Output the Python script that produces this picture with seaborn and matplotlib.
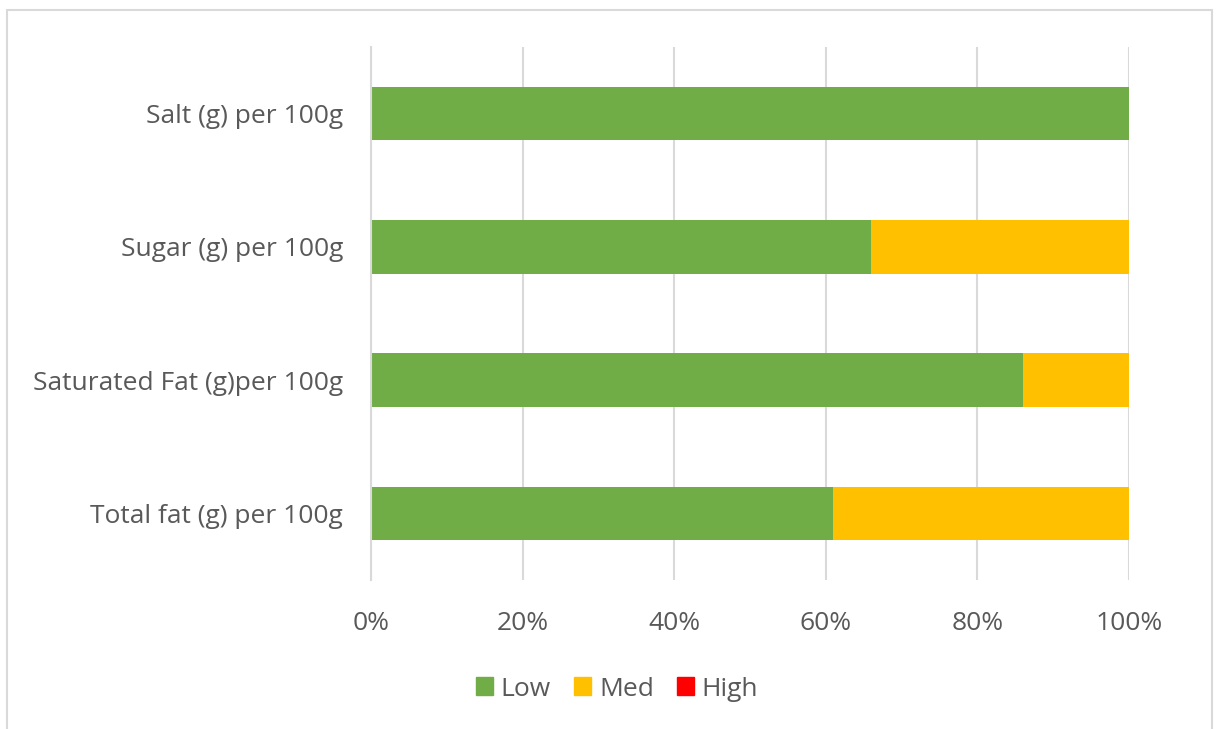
import matplotlib
matplotlib.use("Agg")
import matplotlib.pyplot as plt
import matplotlib.patches as mpatches
import seaborn as sns
import pandas as pd

categories = ["Salt (g) per 100g", "Sugar (g) per 100g",
              "Saturated Fat (g)per 100g", "Total fat (g) per 100g"]
low = [1.00, 0.66, 0.86, 0.61]
med = [0.00, 0.34, 0.14, 0.39]
high = [0.00, 0.00, 0.00, 0.00]
series_names = ["Low", "Med", "High"]
colors = {"Low": "#70AD47", "Med": "#FFC000", "High": "#FF0000"}
tick_vals = [0, 0.2, 0.4, 0.6, 0.8, 1.0]
tick_labels = ["0%", "20%", "40%", "60%", "80%", "100%"]

sns.set_theme(style="white")
plt.rcParams["font.family"] = ["Open Sans", "DejaVu Sans"]
text_color = "#595959"
grid_color = "#D9D9D9"
fs = 19

df = pd.DataFrame({"cat": categories, "Low": low, "Med": med, "High": high})
df["c_low"] = df["Low"]
df["c_med"] = df["Low"] + df["Med"]
df["c_high"] = df["Low"] + df["Med"] + df["High"]

fig = plt.figure(figsize=(12.19, 7.29), dpi=100)
ax = fig.add_axes([371 / 1219, 1 - 580 / 729, (1129 - 371) / 1219, (580 - 47) / 729])

for col, name in [("c_high", "High"), ("c_med", "Med"), ("c_low", "Low")]:
    sns.barplot(data=df, x=col, y="cat", orient="h", color=colors[name],
                width=0.4, linewidth=0, saturation=1, ax=ax, order=categories)

ax.set_xlim(0, 1)
ax.set_ylim(3.5, -0.5)
ax.set_xticks(tick_vals)
ax.set_xticklabels(tick_labels)
ax.set_xlabel("")
ax.set_ylabel("")
ax.xaxis.grid(True, color=grid_color, linewidth=1.5)
ax.set_axisbelow(True)
for s in ["top", "right", "bottom"]:
    ax.spines[s].set_visible(False)
ax.spines["left"].set_color(grid_color)
ax.spines["left"].set_linewidth(1.5)
ax.tick_params(axis="both", length=0, colors=text_color, labelsize=fs)
ax.tick_params(axis="y", pad=20)
ax.tick_params(axis="x", pad=22)

handles = [mpatches.Patch(color=colors[n], label=n) for n in series_names]
leg = fig.legend(handles=handles, loc="center", bbox_to_anchor=(617 / 1219, 1 - 689 / 729),
                 ncol=3, frameon=False, fontsize=fs, handlelength=0.65, handleheight=0.65,
                 handletextpad=0.3, columnspacing=0.87)
for t in leg.get_texts():
    t.set_color(text_color)

border = mpatches.Rectangle((7 / 1219, -0.05), (1212 - 7) / 1219, 1 - 10 / 729 + 0.05,
                            transform=fig.transFigure, fill=False,
                            edgecolor=grid_color, linewidth=1.5)
fig.patches.append(border)

fig.savefig("out.png", dpi=100, facecolor="white")
